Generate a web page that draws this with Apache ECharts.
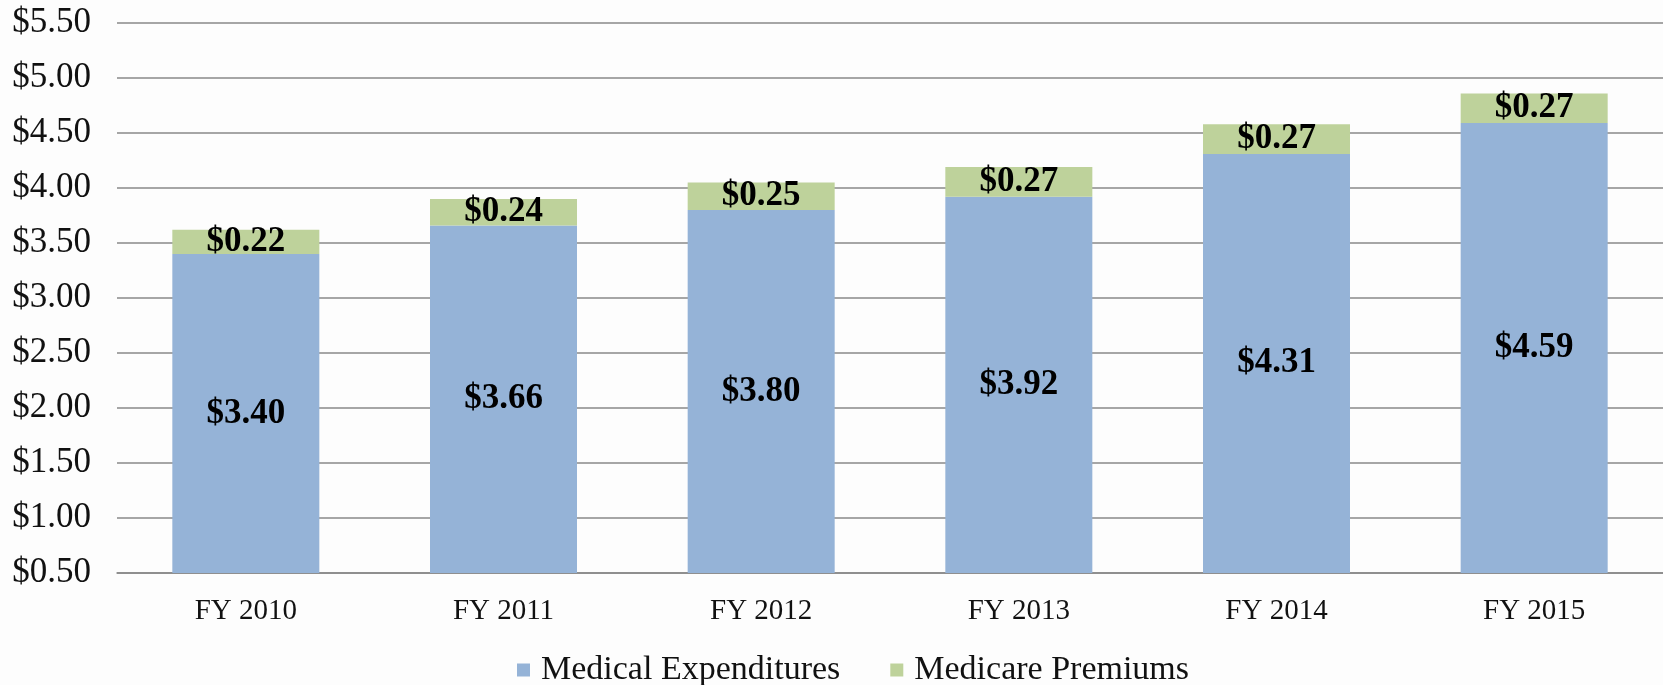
<!DOCTYPE html>
<html>
<head>
<meta charset="utf-8">
<script src="https://cdn.jsdelivr.net/npm/echarts@6/dist/echarts.min.js"></script>
<style>
  html, body { margin: 0; padding: 0; background: #fdfdfd; }
  #chart { width: 1663px; height: 685px; }
</style>
</head>
<body>
<div id="chart"></div>
<script>
// 年度
var years = ["FY 2010", "FY 2011", "FY 2012", "FY 2013", "FY 2014", "FY 2015"];
// 医疗支出
var medical = [3.40, 3.66, 3.80, 3.92, 4.31, 4.59];
// 医保保费
var premiums = [0.22, 0.24, 0.25, 0.27, 0.27, 0.27];
// 纵轴刻度
var yMin = 0.5, yMax = 5.5, yStep = 0.5;

var serif = "Liberation Serif";
function money(v) { return "$" + Number(v).toFixed(2); }

var myChart = echarts.init(document.getElementById("chart"));
var option = {
    backgroundColor: "#fdfdfd",
    animation: false,
    grid: { left: 117, top: 23, width: 1553, height: 550 },
    legend: {
        top: 648,
        left: 512,
        itemWidth: 13,
        itemHeight: 13,
        itemGap: 50,
        icon: "rect",
        textStyle: { fontFamily: serif, fontSize: 34, color: "#111", padding: [0, 0, 0, 6] },
        data: ["Medical Expenditures", "Medicare Premiums"]
    },
    xAxis: {
        type: "category",
        data: years,
        axisTick: { show: false },
        axisLine: { lineStyle: { color: "#888", width: 1.5 } },
        axisLabel: { fontFamily: serif, fontSize: 29, color: "#111", margin: 24 }
    },
    yAxis: {
        type: "value",
        min: yMin,
        max: yMax,
        interval: yStep,
        axisLine: { show: false },
        axisTick: { show: false },
        splitLine: { lineStyle: { color: "#888", width: 1.5 } },
        axisLabel: { fontFamily: serif, fontSize: 35, color: "#111", margin: 26, formatter: money }
    },
    series: [{
        name: "Medical Expenditures",
        type: "bar",
        stack: "total",
        barWidth: 147,
        data: medical,
        itemStyle: { color: "#95B3D7" },
        label: {
            show: true, position: "inside", formatter: function (p) { return money(p.value); },
            fontFamily: serif, fontSize: 35, fontWeight: "bold", color: "#000"
        }
    }, {
        name: "Medicare Premiums",
        type: "bar",
        stack: "total",
        barWidth: 147,
        data: premiums,
        itemStyle: { color: "#BED29B" },
        label: {
            show: true, position: "inside", formatter: function (p) { return money(p.value); },
            fontFamily: serif, fontSize: 35, fontWeight: "bold", color: "#000"
        }
    }]
};
myChart.setOption(option);
</script>
</body>
</html>
